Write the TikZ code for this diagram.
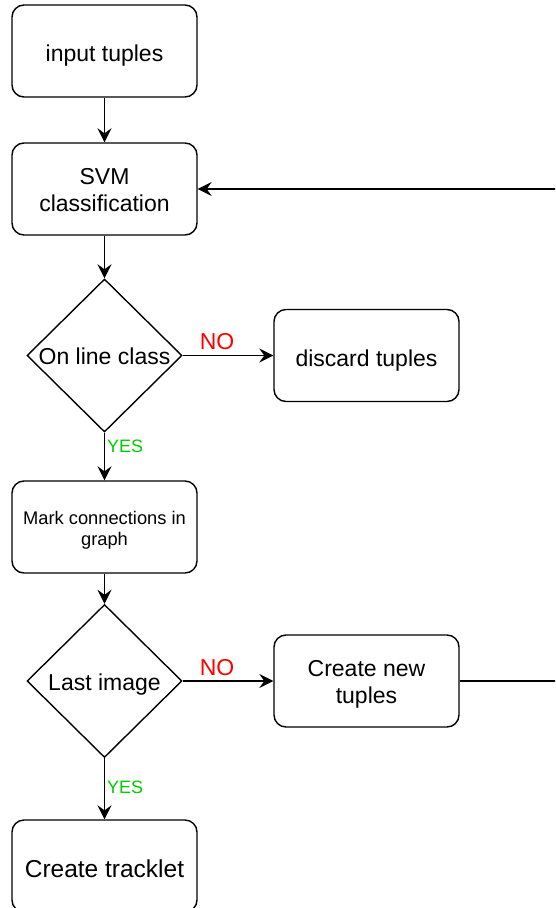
\documentclass[tikz,border=0pt]{standalone}
\usepackage{fontspec}
\setmainfont{Liberation Sans}
\usetikzlibrary{shapes.geometric,arrows.meta}

\definecolor{noRed}{RGB}{255,0,0}
\definecolor{yesGreen}{RGB}{0,204,0}

% one line of text with its baseline a fixed distance below the shape's centre
\newcommand{\oneline}[2][10pt]{\raisebox{-#1}[0pt][0pt]{#2}}
% several centred lines, set a little lower than the shape's centre
\newcommand{\boxtext}[1]{\raisebox{-3.5pt}[\height][\depth]{\begin{tabular}{@{}c@{}}#1\end{tabular}}}

\tikzset{
  procbox/.style={draw, line width=1.4pt, rounded corners=12pt,
    minimum width=185pt, minimum height=92pt, inner sep=0pt,
    font=\fontsize{23}{27.5}\selectfont},
  decision/.style={draw, diamond, line width=1.4pt, minimum width=155pt,
    minimum height=153pt, inner sep=0pt,
    font=\fontsize{23}{27.5}\selectfont},
  flow/.style={line width=1.4pt, -{Stealth[length=14pt,width=14pt,inset=5pt]}},
  nolabel/.style={text=noRed, font=\fontsize{23}{27}\selectfont, inner sep=0pt},
  yeslabel/.style={text=yesGreen, font=\fontsize{18}{21}\selectfont, inner sep=0pt}
}

\begin{document}
\begin{tikzpicture}[x=1pt, y=-1pt]
  \useasboundingbox (0,0) rectangle (555,908);
  \clip (0,0) rectangle (555,908);

  % main column
  \node[procbox] (input)   at (104.5,51)  {\oneline{input tuples}};
  \node[procbox] (svm)     at (104.5,189) {\boxtext{SVM\\classification}};
  \node[decision] (online) at (104.5,355.5) {\oneline[9pt]{On line class}};
  \node[procbox] (discard) at (366.5,355.5) {\oneline[10.5pt]{discard tuples}};
  \node[procbox, font=\fontsize{18.3}{21.5}\selectfont] (mark) at (104.5,527) {\boxtext{Mark connections in\\graph}};
  \node[decision] (last)   at (104.5,681) {\oneline[9.5pt]{Last image}};
  \node[procbox] (newtup)  at (366.5,681) {\boxtext{Create new\\tuples}};
  \node[procbox, font=\fontsize{24.5}{29}\selectfont] (track) at (104.5,866) {\oneline[11pt]{Create tracklet}};

  % connectors
  \draw[flow] (input) -- (svm);
  \draw[flow] (svm) -- (online);
  \draw[flow] (online) -- (discard);
  \draw[flow] (online) -- (mark);
  \draw[flow] (mark) -- (last);
  \draw[flow] (last) -- (newtup);
  \draw[flow] (last) -- (track);

  % loop back from new tuples to the classifier
  \coordinate (loopcorner) at (560,681);
  \draw[flow] (newtup.east) -- (loopcorner) |- (svm.east);

  % branch labels
  \node[nolabel] (no1) at (217,342) {NO};
  \node[nolabel] (no2) at (217,668) {NO};
  \node[yeslabel, anchor=west] (yes1) at (107,446) {YES};
  \node[yeslabel, anchor=west] (yes2) at (107,787.5) {YES};
\end{tikzpicture}
\end{document}
